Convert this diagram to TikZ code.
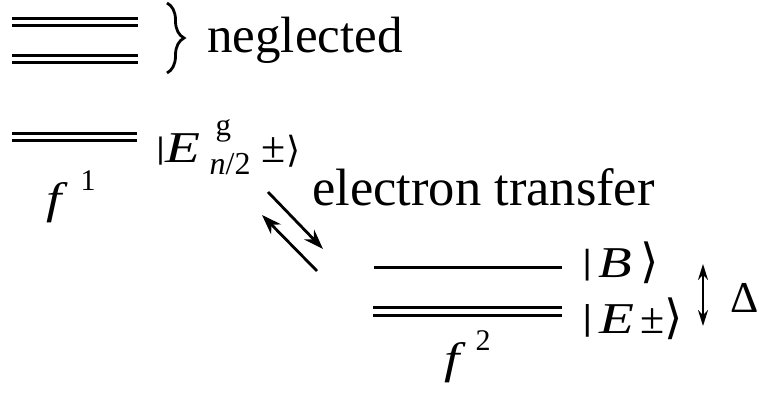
\documentclass[tikz,border=0pt]{standalone}
\usepackage{fontspec}
\setmainfont{Liberation Serif}[ItalicFont={Liberation Serif Italic}]
\newfontfamily\symf{DejaVu Sans}
\usetikzlibrary{decorations.pathreplacing,arrows.meta}
\newcommand\putat[3]{\rlap{\hspace{#1}\raisebox{#2}{#3}}}
\newcommand\fsz[2]{{\fontsize{#1}{#1}\selectfont #2}}
\newcommand\wit[2]{\scalebox{#1}[1]{\textit{#2}}}
\newcommand\myket[1]{{\symf\fontsize{#1}{#1}\selectfont ⟩}}
\newcommand\mybar[1]{\scalebox{1.6}[1]{\fontsize{#1}{#1}\selectfont |}}
\begin{document}
\begin{tikzpicture}[x=1pt,y=-1pt,
  lvl/.style={line width=3pt},
  lbl/.style={inner sep=0pt,anchor=base west,font=\fontsize{44}{50}\selectfont},
  big/.style={inner sep=0pt,anchor=base west,font=\fontsize{51}{56}\selectfont},
  etarrow/.style={line width=2.8pt,-{Stealth[length=20pt,width=14pt]}},
  gaparrow/.style={line width=2.2pt,{Stealth[length=16pt,width=10pt]}-{Stealth[length=16pt,width=10pt]}}]
\useasboundingbox (0,0) rectangle (759,403);
% neglected levels
\draw[lvl] (12,19) -- (138,19);
\draw[lvl] (12,26) -- (138,26);
\draw[lvl] (12,56) -- (138,56);
\draw[lvl] (12,63) -- (138,63);
\draw[line width=2.8pt,decorate,decoration={brace,amplitude=17pt}] (167,3) -- (167,73);
\node[big] (neg) at (207,53) {neglected};
% f1 level
\draw[lvl] (12,134) -- (137,134);
\draw[lvl] (12,141) -- (137,141);
\node[lbl] (eg) at (155,163) {\putat{0pt}{4pt}{\mybar{31}}\putat{10pt}{0pt}{\wit{1.3}{E}}\putat{60pt}{27pt}{\fsz{31}{g}}\putat{54pt}{-12pt}{\fsz{32}{\textit{n}/2}}\putat{106pt}{0pt}{±}\putat{131pt}{0pt}{\myket{36}}};
\node[lbl] (f1) at (46,214) {\putat{0pt}{0pt}{\wit{1.25}{f}}\putat{34pt}{23pt}{\fsz{30}{1}}};
% electron transfer
\node[font=\fontsize{52.5}{58}\selectfont,inner sep=0pt,anchor=base west] (et) at (312,205) {electron transfer};
\coordinate (a1s) at (268,192);
\coordinate (a1e) at (323,249);
\coordinate (a2s) at (317,271);
\coordinate (a2e) at (262,215);
\draw[etarrow] (a1s) -- (a1e);
\draw[etarrow] (a2s) -- (a2e);
% f2 levels
\draw[lvl] (374,267) -- (562,267);
\draw[lvl] (373,307) -- (562,307);
\draw[lvl] (373,315) -- (562,315);
\node[lbl] (b) at (581,277) {\putat{0pt}{4pt}{\mybar{35}}\putat{17pt}{0pt}{\wit{1.25}{B}}\putat{59pt}{0pt}{\myket{47}}};
\node[lbl] (e) at (581,333) {\putat{0pt}{4pt}{\mybar{36}}\putat{18pt}{0pt}{\wit{1.3}{E}}\putat{59pt}{0pt}{±}\putat{83pt}{0pt}{\myket{47}}};
\node[lbl] (f2) at (444,373) {\putat{0pt}{0pt}{\wit{1.25}{f}}\putat{31pt}{23pt}{\fsz{30}{2}}};
\coordinate (dt) at (703,264);
\coordinate (db) at (703,326);
\draw[gaparrow] (dt) -- (db);
\node[lbl] (delta) at (730,312) {Δ};
\end{tikzpicture}
\end{document}
